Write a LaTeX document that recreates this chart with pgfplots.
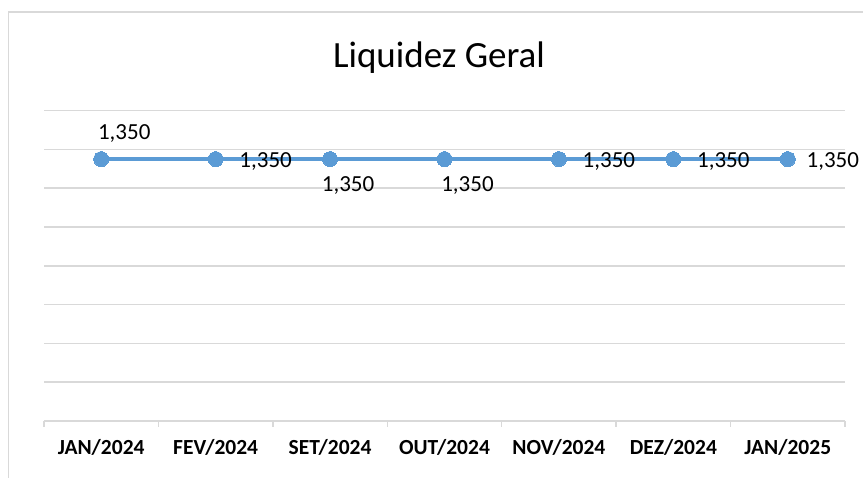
\documentclass[border=0pt]{standalone}
\usepackage{fontspec}
\setmainfont{Carlito}
\usepackage{pgfplots}
\usepackage{pgfplotstable}
\pgfplotsset{compat=1.18}
\definecolor{lineblue}{HTML}{5B9BD5}
\definecolor{gridgray}{HTML}{D9D9D9}
\pgfplotstableread{
x y dx dy
0 1.35 23 26
1 1.35 50 -2
2 1.35 18 -26
3 1.35 23 -26
4 1.35 50 -2
5 1.35 50 -2
6 1.35 45 -2
}\datatable
\begin{document}
\begin{tikzpicture}
\useasboundingbox (-44pt,-57pt) rectangle (819pt,421pt);
\draw[gridgray, line width=1.5pt] (-35.5pt,-60pt) -- (-35.5pt,409pt) -- (830pt,409pt);
\begin{axis}[
  scale only axis,
  width=801pt, height=310.4pt,
  xmin=-0.5, xmax=6.5,
  ymin=0, ymax=1.6,
  axis line style={draw=none},
  ytick={0,0.2,...,1.6},
  yticklabels={},
  ytick style={draw=none},
  ymajorgrids,
  grid style={gridgray, line width=1.5pt},
  xtick={0,...,6},
  xticklabels={JAN/2024,FEV/2024,SET/2024,OUT/2024,NOV/2024,DEZ/2024,JAN/2025},
  xtick style={draw=none},
  xtick pos=lower,
  xticklabel style={font=\fontsize{21.5}{24}\selectfont\bfseries, anchor=center, yshift=-26pt},
  extra x ticks={-0.5,0.5,1.5,2.5,3.5,4.5,5.5,6.5},
  extra x tick labels={,,,,,,,},
  extra x tick style={xtick style={draw=gridgray, line width=1.5pt}, major tick length=6pt, tick align=outside, xtick pos=lower},
  clip=false,
]
\addplot[lineblue, line width=4.5pt, mark=*, mark size=7.5pt, mark options={fill=lineblue, draw=lineblue, line width=0pt}] table[x=x,y=y] {\datatable};
\addplot[draw=none, mark=none,
  nodes near coords,
  visualization depends on={\thisrow{dx}\as\dx},
  visualization depends on={\thisrow{dy}\as\dy},
  every node near coord/.append style={font=\fontsize{23}{26}\selectfont, anchor=center, xshift=\dx pt, yshift=\dy pt,
    /pgf/number format/fixed, /pgf/number format/fixed zerofill, /pgf/number format/precision=3,
    /pgf/number format/use comma, /pgf/number format/assume math mode=true},
] table[x=x,y=y] {\datatable};
\end{axis}
\node[font=\fontsize{37}{44}\selectfont, anchor=center] at (395pt,363pt) {Liquidez Geral};
\end{tikzpicture}
\end{document}
